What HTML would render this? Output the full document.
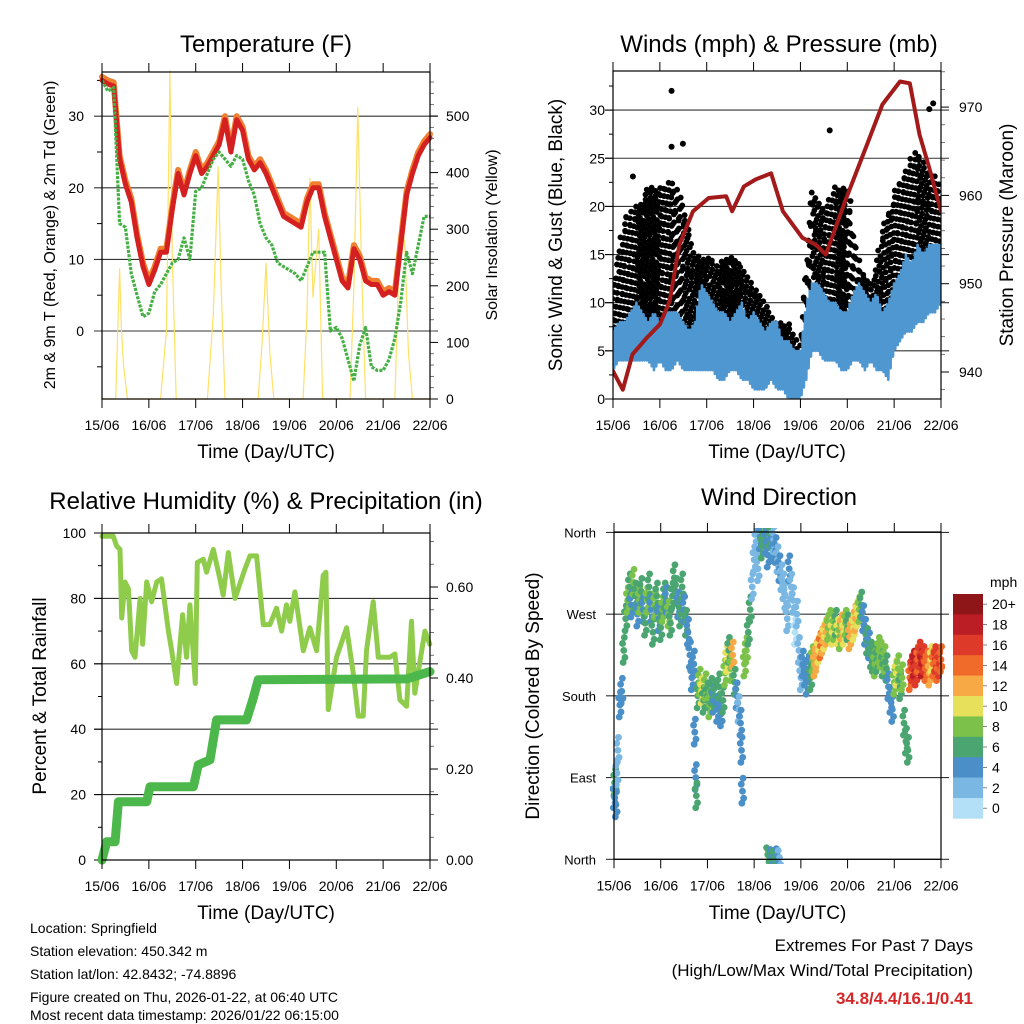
<!DOCTYPE html>
<html><head><meta charset="utf-8"><style>
html,body{margin:0;padding:0;background:#fff;}
svg{display:block;font-family:"Liberation Sans",Arial,sans-serif;}
</style></head><body>
<svg id="chart" width="1024" height="1024" viewBox="0 0 1024 1024" xmlns="http://www.w3.org/2000/svg">
<rect width="1024" height="1024" fill="#fff"/>
<defs><clipPath id="clipW"><rect x="613" y="71" width="328" height="328"/></clipPath>
<clipPath id="clipD"><rect x="610" y="528" width="335" height="336"/></clipPath></defs>
<g id="g1"></g>
<g id="g2"></g>
<g id="g3"></g>
<g id="g4"></g>
<g font-size="14" fill="#000">
<text x="30" y="933">Location: Springfield</text>
<text x="30" y="956">Station elevation: 450.342 m</text>
<text x="30" y="979">Station lat/lon: 42.8432; -74.8896</text>
<text x="30" y="1002">Figure created on Thu, 2026-01-22, at 06:40 UTC</text>
<text x="30" y="1020">Most recent data timestamp: 2026/01/22 06:15:00</text>
</g>
<g font-size="17" text-anchor="end">
<text x="973" y="951">Extremes For Past 7 Days</text>
<text x="973" y="976">(High/Low/Max Wind/Total Precipitation)</text>
<text x="973" y="1004" fill="#d62728" font-weight="bold">34.8/4.4/16.1/0.41</text>
</g>
</svg>
<script>
// ---------- DATA ----------
const dayLabels = ["15/06","16/06","17/06","18/06","19/06","20/06","21/06","22/06"];
const tHours = [0,3,6,9,12,15,18,21,24,27,30,33,36,39,42,45,48,51,54,57,60,63,66,69,72,75,78,81,84,87,90,93,96,99,102,105,108,111,114,117,120,123,126,129,132,135,138,141,144,147,150,153,156,159,162,165,168];
const temp2m = [35,34.5,34.2,24,20.5,18,13,9,6.5,8.5,11,11,17,22,19,22,24.5,22,23,24.5,26,29.5,25,29.5,28,24,22.5,23.5,22,20,18,16,15.5,15,14.5,18,20,20,16,13,10,7,6,11.5,10,7,6.5,6.5,5,5.5,5,12,19,22,24.5,26,27];
const dewpoint = [35,33.5,34,15,14.5,8,5,2,2.5,5.5,6.5,8,9.5,10,13,10,19.5,20,22,24,25,24,23,24.5,24,21,19,15,13,12,9.5,9,8.5,8,7,9,11,11,11,0,0.5,-1,-4,-7,-2,0.5,-5,-5.5,-5.5,-4,-1,4,11,8,12,16,16];
const solarHours = [0,7,9,10,11,13,30,33,34.8,36,38,54,57,59.5,61,63,80,82,84,86,88,103,105,106.5,108,111,113,127,129,131,133,135,150,152.6,155,157,159,168];
const solarValues = [0,0,230,120,60,0,0,120,580,250,0,0,150,410,200,0,0,100,240,80,0,0,150,390,180,300,0,0,200,515,220,0,0,300,280,80,0,0];
const tempTicks = [0,10,20,30];
const solarTicks = [0,100,200,300,400,500];

const gustHours = [0,6,12,18,24,30,36,42,48,54,60,66,72,78,84,90,96,102,108,114,120,126,132,138,144,150,156,162,168];
const gustMin = [6,7,8,8,8,9,7,6,6,5,5,5,4,3,2,2,1,9,8,9,9,5,5,8,10,11,12,11,12];
const gustMax = [12,19,20,22,22,23,20,15,15,14,15,14,12,10,8,8,6,22,20,22,22,14,12,17,22,24,26,24,22];
const gustOutHours = [30,30,35.8,10.2,111,164,162];
const gustOutValues = [32,26.2,26.5,23.1,27.9,30.7,30.1];
const sonicHours = [0,3,6,9,12,15,18,21,24,27,30,33,36,39,42,45,48,51,54,57,60,63,66,69,72,75,78,81,84,87,90,93,96,99,102,105,108,111,114,117,120,123,126,129,132,135,138,141,144,147,150,153,156,159,162,165,168];
const sonicMin = [3,4,4,4,4,4,4,3,4,3,3,4,3,3,3,3,3,3,2,2,3,3,2,2,1,1,1,2,1,1,0,0,0,2,5,5,4,4,4,3,3,4,4,3,4,3,3,2,5,6,7,7,8,8,9,9,10];
const sonicMax = [7,8,8,9,10,9,8,9,8,9,9,9,8,7,8,12,11,10,9,9,8,9,10,8,9,8,7,8,8,6,6,5,5,10,12,12,11,10,10,9,9,11,12,11,10,11,9,10,12,13,15,14,16,15,16,16,16];
const pressHours = [0,5,10,17,24,29,34,41,49,58,61,67,73,81,87,97,104,109,119,130,138,147,152,157,162,168];
const pressValues = [940.1,938,942,943.8,945.4,948,954.4,958.2,959.7,959.9,958.2,961,961.8,962.5,958.2,955.2,954.4,953.3,959.4,965.7,970.3,972.9,972.7,966.9,963.1,958.2];
const windTicks = [0,5,10,15,20,25,30];
const pressTicks = [940,950,960,970];

const rhHours = [0,5.8,7.5,9.2,10.1,11.8,13.5,15.2,16.9,19.5,20.8,22.9,25.4,28,30.5,34,35.7,38.2,41.3,43.3,45,47.8,48.8,51.9,53.6,57,60.4,62.1,64.7,68.1,73.2,75.8,79.2,82.6,86,89.4,92,94.5,96.2,98.8,103.1,106.5,109.9,113.3,114.7,115.9,120.1,125.3,128.7,131.2,133.8,135.5,138.9,141.5,144,147.4,150,152.6,156,158.5,160.2,165.4,167.9];
const rhValues = [99,99,96,95,74,85,83,64,62,80,66,85,79,85,86,70,64,54,75,62,78,54,91,92,88,95,86,81,94,80,89,93,93,72,72,77,70,78,73,82,64,71,64,87,88,46,62,71,57,44,44,64,79,62,62,62,63,49,47,73,51,70,66];
const precipHours = [0,2.4,6.7,8.4,22.9,24.6,46.8,49.3,55.3,58.7,74,77.5,80,156,168];
const precipValues = [0,0.04,0.04,0.128,0.128,0.161,0.161,0.209,0.22,0.308,0.308,0.356,0.396,0.398,0.414];
const rhTicks = [0,20,40,60,80,100];
const precipTicks = [0,0.2,0.4,0.6];

const dirHours = [
0,0.5,1,1.5,2,3,4,5,6,7,
8,9,10,11,12,13,14,15,16,17,
18,19,20,21,22,23,24,25,26,27,
28,29,30,31,32,33,34,35,36,37,
38,39,40,41,41.5,42,42.3,43,44,45,
46,47,48,49,50,51,52,53,54,55,
56,57,58,59,60,61,62,63,64,65,
65.5,66,67,68,69,70,71,72,73,74,
75,76,77,78,79,80,81,82,83,84,
85,86,87,88,89,90,91,92,93,94,
95,96,97,98,99,100,101,102,103,104,
105,106,107,108,109,110,111,112,113,114,
115,116,117,118,119,120,121,122,123,124,
125,126,127,128,129,130,131,132,133,134,
135,136,137,138,139,140,141,142,143,144,
145,146,147,148,149,150,151,152,153,154,
155,156,157,158,159,160,161,162,163,164,
165,166,167,168,79,80,81,82,84,85];
const dirDeg = [
70,85,60,95,120,170,185,230,265,285,
300,280,305,290,270,285,295,275,260,285,
300,275,250,280,290,265,255,275,290,285,
270,260,290,310,295,280,270,300,275,260,
250,225,200,215,140,90,70,180,195,185,
175,190,180,170,185,175,180,165,190,160,
175,205,220,230,210,225,195,180,165,150,
120,75,215,230,250,275,300,330,350,320,
355,345,360,350,335,358,345,352,340,330,
320,310,300,290,265,320,300,285,250,270,
230,200,215,205,195,210,200,220,215,225,
230,235,240,245,250,255,260,250,255,260,
250,245,255,250,260,255,245,250,255,265,
270,275,280,265,250,240,235,225,220,215,
220,230,225,215,220,210,190,175,165,195,
205,210,190,200,150,130,120,200,210,215,
205,220,225,215,220,210,215,205,220,215,
220,210,215,220,5,2,3,1,4,2];
const dirSpd = [
4,6,4,2,2,4,4,6,6,8,
6,4,8,6,4,8,6,4,6,8,
6,4,6,8,6,4,6,8,6,4,
8,6,6,6,6,4,6,6,4,6,
4,4,4,4,4,4,6,6,8,10,
6,8,6,8,6,4,6,4,6,4,
6,8,10,6,8,12,6,4,2,4,
4,4,8,8,6,6,2,2,2,2,
4,6,6,4,4,6,4,2,4,2,
4,2,2,2,2,4,2,2,0,2,
2,2,4,4,4,4,6,8,12,12,
10,14,12,10,12,8,8,10,8,6,
10,8,12,10,8,6,12,12,10,12,
10,8,6,4,4,6,4,6,6,8,
6,8,8,6,8,6,4,4,4,8,
10,8,6,8,6,6,6,14,16,18,
16,14,16,18,16,14,14,12,10,14,
16,14,16,14,6,6,4,6,4,2];
const dirTickLabels = ["North","East","South","West","North"];
const dirTickValues = [0,90,180,270,360];
const speedLabels = ["0","2","4","6","8","10","12","14","16","18","20+"];
const speedColors = ["#b3e0f7","#7ab8e3","#4a8fc7","#4aa570","#7cc24a","#e6e05a","#f6a945","#f06a2a","#dd3a2a","#bb1f25","#8e1518"];

// ---------- HELPERS ----------
const NS="http://www.w3.org/2000/svg";
function mk(parent, tag, attrs, text){
  const e=document.createElementNS(NS,tag);
  for(const k in attrs) e.setAttribute(k,attrs[k]);
  if(text!==undefined) e.textContent=text;
  parent.appendChild(e); return e;
}
function frame(g, L, R, T, B, xLabelY){
  for(let d=0; d<=7; d++){
    const x=L+d*(R-L)/7;
    mk(g,'line',{x1:x,x2:x,y1:T-9,y2:T,stroke:'#000','stroke-width':1});
    mk(g,'line',{x1:x,x2:x,y1:B,y2:B+9,stroke:'#000','stroke-width':1});
    const t=mk(g,'text',{x:x,y:B+31,'text-anchor':'middle','font-size':14},dayLabels[d]);
    
    
  }
  const xl=mk(g,'text',{x:(L+R)/2,y:xLabelY,'text-anchor':'middle','font-size':19},'Time (Day/UTC)');
  
  
}
function box(g,L,R,T,B){
  const r=mk(g,'rect',{x:L,y:T,width:R-L,height:B-T,fill:'none',stroke:'#000','stroke-width':1.2});
  
  
}
function hgrid(g,L,R,y){
  mk(g,'line',{x1:L-8,x2:R+8,y1:y,y2:y,stroke:'#333','stroke-width':1.1});
}
function poly(g, xs, ys, attrs){
  const pts=xs.map((x,i)=>x.toFixed(1)+','+ys[i].toFixed(1)).join(' ');
  return mk(g,'polyline',Object.assign({points:pts,fill:'none','stroke-linejoin':'round','stroke-linecap':'round'},attrs));
}
function rotText(g,x,y,size,txt,name){
  const t=mk(g,'text',{x:x,y:y,'text-anchor':'middle','font-size':size,transform:`rotate(-90 ${x} ${y})`},txt);
  
  
}
function lerp(hs, vs, h){
  if(h<=hs[0]) return vs[0];
  for(let i=1;i<hs.length;i++){ if(h<=hs[i]){ const f=(h-hs[i-1])/(hs[i]-hs[i-1]); return vs[i-1]+f*(vs[i]-vs[i-1]); } }
  return vs[vs.length-1];
}

// ---------- PANEL 1: TEMPERATURE ----------
(function(){
  const g=document.getElementById('g1');
  const L=102,R=430,T=72,B=399;
  const X=h=>L+h*(R-L)/168, Y=v=>331-v*7.16, YS=v=>399-v*0.566;
  const title=mk(g,'text',{x:266,y:52,'text-anchor':'middle','font-size':24},'Temperature (F)');
  
  
  tempTicks.forEach(v=>{ hgrid(g,L,R,Y(v)); mk(g,'text',{x:84,y:Y(v)+5,'text-anchor':'end','font-size':14},String(v)); });
  [-5,5,15,25,35].forEach(v=>mk(g,'line',{x1:L-5,x2:L,y1:Y(v),y2:Y(v),stroke:'#000'}));
  solarTicks.forEach(v=>{ mk(g,'line',{x1:R,x2:R+8,y1:YS(v),y2:YS(v),stroke:'#000'}); mk(g,'text',{x:446,y:YS(v)+5,'font-size':14},String(v)); });
  for(let v=20; v<580; v+=20){ if(v%100) mk(g,'line',{x1:R,x2:R+4,y1:YS(v),y2:YS(v),stroke:'#555','stroke-width':0.8}); }
  const sol=poly(g,solarHours.map(X),solarValues.map(YS),{stroke:'#ffe066','stroke-width':1.2});
  
  
  const t9=poly(g,tHours.map(X),temp2m.map(v=>Y(v+0.5)),{stroke:'#f08030','stroke-width':6});
  
  
  const t2=poly(g,tHours.map(X),temp2m.map(Y),{stroke:'#d42020','stroke-width':5});
  
  
  const td=poly(g,tHours.map(X),dewpoint.map(Y),{stroke:'#44b044','stroke-width':3.2,'stroke-dasharray':'3 1.3','stroke-linecap':'butt'});
  
  
  box(g,L,R,T,B);
  frame(g,L,R,T,B,458);
  rotText(g,55,235,16,'2m & 9m T (Red, Orange) & 2m Td (Green)','y-axis-title-left');
  rotText(g,497,235,16,'Solar Insolation (Yellow)','y-axis-title-right');
})();

// ---------- PANEL 2: WINDS ----------
(function(){
  const g=document.getElementById('g2');
  const L=613,R=941,T=71,B=399;
  const X=h=>L+h*(R-L)/168, Y=v=>399-v*9.63, YP=p=>372-(p-940)*8.83;
  const title=mk(g,'text',{x:779,y:52,'text-anchor':'middle','font-size':24},'Winds (mph) & Pressure (mb)');
  
  
  windTicks.forEach(v=>{ if(v>0) hgrid(g,L,R,Y(v)); mk(g,'line',{x1:L-8,x2:L,y1:Y(v),y2:Y(v),stroke:'#000'}); mk(g,'text',{x:605,y:Y(v)+5,'text-anchor':'end','font-size':14},String(v)); });
  for(let v=2.5; v<35; v+=5) mk(g,'line',{x1:L-4,x2:L,y1:Y(v),y2:Y(v),stroke:'#000'});
  pressTicks.forEach(p=>{ mk(g,'line',{x1:R,x2:R+8,y1:YP(p),y2:YP(p),stroke:'#000'}); mk(g,'text',{x:959,y:YP(p)+5,'font-size':14},String(p)); });
  for(let p=938; p<975; p+=2){ if(p%10) mk(g,'line',{x1:R,x2:R+4,y1:YP(p),y2:YP(p),stroke:'#555','stroke-width':0.8}); }
  const clip=mk(g,'g',{'clip-path':'url(#clipW)'});
  const gd=mk(clip,'g',{fill:'#000'});
  
  
  let n=0;
  for(let h=0; h<=168; h+=0.5){
    const lo=lerp(gustHours,gustMin,h), hi=lerp(gustHours,gustMax,h);
    const off=((n*0.618)%1)*2.2;
    let k=0;
    for(let v=lo+off; v<=hi; v+=2.2){
      const jx=(((n*7+k*3)%5)-2)*0.35;
      const c=mk(gd,'circle',{cx:X(h+jx),cy:Y(v),r:2.9});
      
      
      k++;
    }
    n++;
  }
  gustOutHours.forEach((h,i)=>{
    const c=mk(gd,'circle',{cx:X(h),cy:Y(gustOutValues[i]),r:3});
    
    
  });
  const xs=[],ys=[];
  let flip=0;
  for(let h=0; h<=168; h+=0.6){
    const v= flip? lerp(sonicHours,sonicMin,h) : lerp(sonicHours,sonicMax,h);
    xs.push(X(h)); ys.push(Y(v)); flip=1-flip;
  }
  const sw=poly(clip,xs,ys,{stroke:'#4f97d1','stroke-width':2.6});
  
  
  const pl=poly(clip,pressHours.map(X),pressValues.map(YP),{stroke:'#a31a1a','stroke-width':4});
  
  
  box(g,L,R,T,B);
  frame(g,L,R,T,B,458);
  rotText(g,562,235,19,'Sonic Wind & Gust (Blue, Black)','y-axis-title-left');
  rotText(g,1013,235,19,'Station Pressure (Maroon)','y-axis-title-right');
})();

// ---------- PANEL 3: RH & PRECIP ----------
(function(){
  const g=document.getElementById('g3');
  const L=102,R=430,T=533,B=860;
  const X=h=>L+h*(R-L)/168, Y=v=>860-v*3.27, YP=p=>860-p*455;
  const title=mk(g,'text',{x:266,y:509,'text-anchor':'middle','font-size':24},'Relative Humidity (%) & Precipitation (in)');
  
  
  rhTicks.forEach(v=>{ if(v>0&&v<100) hgrid(g,L,R,Y(v)); mk(g,'line',{x1:L-8,x2:L,y1:Y(v),y2:Y(v),stroke:'#000'}); mk(g,'text',{x:86,y:Y(v)+5,'text-anchor':'end','font-size':14},String(v)); });
  for(let v=10; v<100; v+=20) mk(g,'line',{x1:L-4,x2:L,y1:Y(v),y2:Y(v),stroke:'#000'});
  precipTicks.forEach(p=>{ mk(g,'line',{x1:R,x2:R+8,y1:YP(p),y2:YP(p),stroke:'#000'}); mk(g,'text',{x:446,y:YP(p)+5,'font-size':14},p.toFixed(2)); });
  for(let i=1; i<15; i++){ if(i%4) { const p=i*0.05; mk(g,'line',{x1:R,x2:R+4,y1:YP(p),y2:YP(p),stroke:'#555','stroke-width':0.8}); } }
  const rh=poly(g,rhHours.map(X),rhValues.map(Y),{stroke:'#8fcc4c','stroke-width':5});
  
  
  const pr=poly(g,precipHours.map(X),precipValues.map(YP),{stroke:'#4cb84c','stroke-width':9});
  
  
  box(g,L,R,T,B);
  frame(g,L,R,T,B,919);
  rotText(g,46,696,19,'Percent & Total Rainfall','y-axis-title-left');
})();

// ---------- PANEL 4: WIND DIRECTION ----------
(function(){
  const g=document.getElementById('g4');
  const L=614,R=941,T=532,B=859.3;
  const X=h=>L+h*(R-L)/168, Y=d=>859.3-d*0.908;
  const title=mk(g,'text',{x:779,y:505,'text-anchor':'middle','font-size':24},'Wind Direction');
  
  
  dirTickValues.forEach((d,i)=>{ hgrid(g,L,R,Y(d)); mk(g,'text',{x:596,y:Y(d)+5,'text-anchor':'end','font-size':13},dirTickLabels[i]); });
  const pts=mk(g,'g',{'clip-path':'url(#clipD)'});
  
  
  const offs=[[0,0],[-1.2,-7],[1.2,7],[0.6,-13],[-0.6,12]];
  dirHours.forEach((h,i)=>{
    const idx=Math.min(10,Math.floor(dirSpd[i]/2));
    offs.forEach((o,j)=>{
      if(dirDeg[i]<15 && j>2) return;
      const c=mk(pts,'circle',{cx:X(h)+o[0],cy:Y(dirDeg[i])+o[1],r:3.4,fill:speedColors[idx]});
      
      
    });
  });
  box(g,L,R,T,B);
  frame(g,L,R,T,B,919);
  rotText(g,539,696,19,'Direction (Colored By Speed)','y-axis-title-left');
  const cb=mk(g,'g',{});
  
  
  mk(cb,'text',{x:990,y:587,'font-size':14},'mph');
  const top=594, h=20.4;
  for(let i=0;i<11;i++){
    const k=10-i;
    const y=top+i*h;
    const r=mk(cb,'rect',{x:953,y:y,width:30,height:h+0.3,fill:speedColors[k]});
    
    
    mk(cb,'line',{x1:983,x2:987,y1:y+h/2,y2:y+h/2,stroke:'#666','stroke-width':0.8});
    mk(cb,'text',{x:992,y:y+h/2+5,'font-size':14},speedLabels[k]);
  }
})();
</script>
</body></html>
